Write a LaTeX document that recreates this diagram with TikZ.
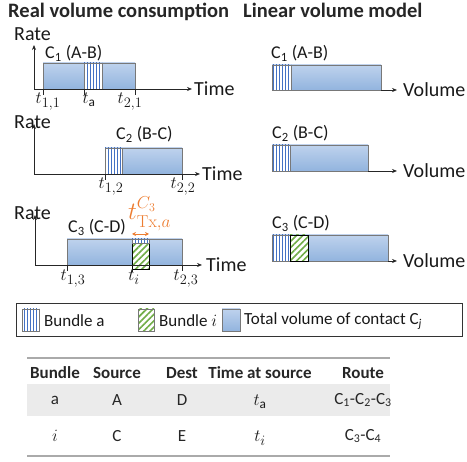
\documentclass[tikz,border=0pt]{standalone}
\usepackage{amsmath}
\usepackage[no-math]{fontspec}
\setmainfont{Carlito}
\usetikzlibrary{arrows.meta,patterns.meta}
\definecolor{volTop}{RGB}{190,210,237}
\definecolor{volBot}{RGB}{146,180,222}
\definecolor{volEdge}{RGB}{120,120,120}
\definecolor{stripeBlue}{RGB}{68,114,196}
\definecolor{hatchGreen}{RGB}{112,173,71}
\definecolor{txOrange}{RGB}{237,125,49}
\definecolor{rowGray}{RGB}{235,235,235}
\definecolor{ruleGray}{RGB}{170,170,170}
\tikzset{
  vol/.style={draw=volEdge, line width=0.8pt, top color=volTop, bottom color=volBot},
  stripes/.style={draw=volEdge, line width=0.6pt, preaction={fill=white},
    pattern={Lines[angle=90,distance=3pt,line width=1pt]}, pattern color=stripeBlue},
  hatch/.style={draw=black, line width=0.9pt, preaction={fill=white},
    pattern={Lines[angle=45,distance=4.5pt,line width=1.6pt]}, pattern color=hatchGreen},
  axis/.style={line width=0.7pt, draw=black!85, -{Stealth[length=5pt,width=4pt]}},
  tick/.style={line width=0.7pt, draw=black!85},
  title/.style={font=\fontsize{20.5}{22}\selectfont\bfseries, inner sep=0pt, text=black!85},
  lbl/.style={font=\fontsize{20}{22}\selectfont, inner sep=0pt, text=black!90},
  clbl/.style={font=\fontsize{18}{20}\selectfont, inner sep=0pt, text=black!90},
  tlbl/.style={font=\fontsize{19}{21}\selectfont, inner sep=0pt, text=black!90},
  leg/.style={font=\fontsize{17}{19}\selectfont, inner sep=0pt, anchor=west, text=black!90},
  th/.style={font=\fontsize{17}{19}\selectfont\bfseries, inner sep=0pt, text=black!85},
  td/.style={font=\fontsize{17}{19}\selectfont, inner sep=0pt, text=black!85},
}
\begin{document}
\begin{tikzpicture}[x=1pt,y=-1pt]
\useasboundingbox (0,0) rectangle (467,462);

% ---------- titles ----------
\node[title, anchor=base west] (titleL) at (8,18) {Real volume consumption};
\node[title, anchor=base west] (titleR) at (243,18) {Linear volume model};

% ---------- panel 1 ----------
\coordinate (o1) at (34,89);
\coordinate (y1) at (34,45);
\coordinate (x1) at (192,89);
\path[vol] (43,63) rectangle (135,89);
\path[stripes] (84,63) rectangle (102,89);
\draw[axis] (o1) -- (y1);
\draw[axis] (o1) -- (x1);
\draw[tick] (43,89) -- (43,95);
\draw[tick] (84,89) -- (84,95);
\draw[tick] (135,89) -- (135,95);
\node[lbl, anchor=west] (time1) at ([xshift=2pt]x1) {Time};
\node[lbl, anchor=base west] (rate1) at (14,41) {Rate};
\node[clbl, anchor=base west] (c1) at (45,59) {C\textsubscript{1} (A-B)};
\node[tlbl, anchor=north] (t11) at (48,93) {$t_{1,1}$};
\node[tlbl, anchor=north] (ta) at (89,93) {$t_{\text{a}}$};
\node[tlbl, anchor=north] (t21) at (130,93) {$t_{2,1}$};

% ---------- panel 2 ----------
\coordinate (o2) at (34,174);
\coordinate (y2) at (34,124);
\coordinate (x2) at (200,174);
\path[vol] (105,148) rectangle (182,174);
\path[stripes] (105,148) rectangle (122,174);
\draw[axis] (o2) -- (y2);
\draw[axis] (o2) -- (x2);
\draw[tick] (105,174) -- (105,180);
\draw[tick] (182,174) -- (182,180);
\node[lbl, anchor=west] (time2) at ([xshift=2pt]x2) {Time};
\node[lbl, anchor=base west] (rate2) at (14,129) {Rate};
\node[clbl, anchor=base west] (c2) at (116,140) {C\textsubscript{2} (B-C)};
\node[tlbl, anchor=north] (t12) at (111,178) {$t_{1,2}$};
\node[tlbl, anchor=north] (t22) at (183,178) {$t_{2,2}$};

% ---------- panel 3 ----------
\coordinate (o3) at (35,265);
\coordinate (y3) at (35,215);
\coordinate (x3) at (202,265);
\path[vol] (67,239) rectangle (182,265);
\path[hatch] (132,243) rectangle (149,269);
\path[stripes] (132,239) rectangle (149,243);
\draw[axis] (o3) -- (y3);
\draw[axis] (o3) -- (x3);
\draw[tick] (67,265) -- (67,271);
\draw[tick] (182,265) -- (182,271);
\draw[tick] (132,269) -- (132,272);
\node[lbl, anchor=west] (time3) at ([xshift=4pt]x3) {Time};
\node[lbl, anchor=base west] (rate3) at (14,220) {Rate};
\node[clbl, anchor=base west] (c3) at (68,233) {C\textsubscript{3} (C-D)};
\coordinate (txL) at (132,234);
\coordinate (txR) at (149,234);
\draw[txOrange, line width=0.8pt, {Stealth[length=4pt,width=4pt]}-{Stealth[length=4pt,width=4pt]}] (txL) -- (txR);
\node[font=\fontsize{23}{25}\selectfont, inner sep=0pt, text=txOrange, anchor=base west] (ttx) at (128,220) {$t^{C_3}_{\mathrm{Tx},a}$};
\node[tlbl, anchor=north] (t13) at (73,270) {$t_{1,3}$};
\node[tlbl, anchor=north] (ti) at (134,270) {$t_{i}$};
\node[tlbl, anchor=north] (t23) at (186,270) {$t_{2,3}$};

% ---------- right panels ----------
\path[vol] (272,65) rectangle (381,90);
\path[stripes] (272,65) rectangle (291,90);
\coordinate (r1a) at (381,90);
\coordinate (r1b) at (397,90);
\draw[axis] (r1a) -- (r1b);
\node[lbl, anchor=west] (vol1) at ([xshift=6pt]r1b) {Volume};
\node[clbl, anchor=base west] (rc1) at (271,59) {C\textsubscript{1} (A-B)};

\path[vol] (272,145) rectangle (368,171);
\path[stripes] (272,145) rectangle (290,171);
\coordinate (r2a) at (368,171);
\coordinate (r2b) at (397,171);
\draw[axis] (r2a) -- (r2b);
\node[lbl, anchor=west] (vol2) at ([xshift=6pt]r2b) {Volume};
\node[clbl, anchor=base west] (rc2) at (272,139) {C\textsubscript{2} (B-C)};

\path[vol] (272,235) rectangle (388,261);
\path[stripes] (272,235) rectangle (290,261);
\path[hatch] (290,235) rectangle (308,261);
\coordinate (r3a) at (388,261);
\coordinate (r3b) at (397,261);
\draw[axis] (r3a) -- (r3b);
\node[lbl, anchor=west] (vol3) at ([xshift=6pt]r3b) {Volume};
\node[clbl, anchor=base west] (rc3) at (272,229) {C\textsubscript{3} (C-D)};

% ---------- legend ----------
\draw[draw=black!80, line width=1pt] (16,304) rectangle (462,337);
\path[stripes] (22,309) rectangle (39,331);
\node[leg] (lega) at (44,321) {Bundle a};
\path[hatch, draw=volEdge] (138,309) rectangle (154,331);
\node[leg] (legi) at (159,321) {Bundle $i$};
\path[vol] (222,309) rectangle (240,331);
\node[leg] (legc) at (244,321) {Total volume of contact C\textsubscript{\textit{j}}};

% ---------- table ----------
\fill[rowGray] (27,384) rectangle (390,416);
\draw[ruleGray, line width=1.2pt] (27,358) -- (390,358);
\draw[ruleGray, line width=1.2pt] (27,456) -- (390,456);
\node[th] (h1) at (55,373) {Bundle};
\node[th] (h2) at (117,373) {Source};
\node[th] (h3) at (182,373) {Dest};
\node[th] (h4) at (260,373) {Time at source};
\node[th] (h5) at (363,373) {Route};
\node[td] (a1) at (55,400) {a};
\node[td] (a2) at (117,400) {A};
\node[td] (a3) at (182,400) {D};
\node[tlbl] (a4) at (260,402) {$t_{\text{a}}$};
\node[td] (a5) at (363,400) {C\textsubscript{1}-C\textsubscript{2}-C\textsubscript{3}};
\node[td] (b1) at (55,436) {$i$};
\node[td] (b2) at (117,436) {C};
\node[td] (b3) at (182,436) {E};
\node[tlbl] (b4) at (260,438) {$t_{i}$};
\node[td] (b5) at (363,436) {C\textsubscript{3}-C\textsubscript{4}};
\end{tikzpicture}
\end{document}
